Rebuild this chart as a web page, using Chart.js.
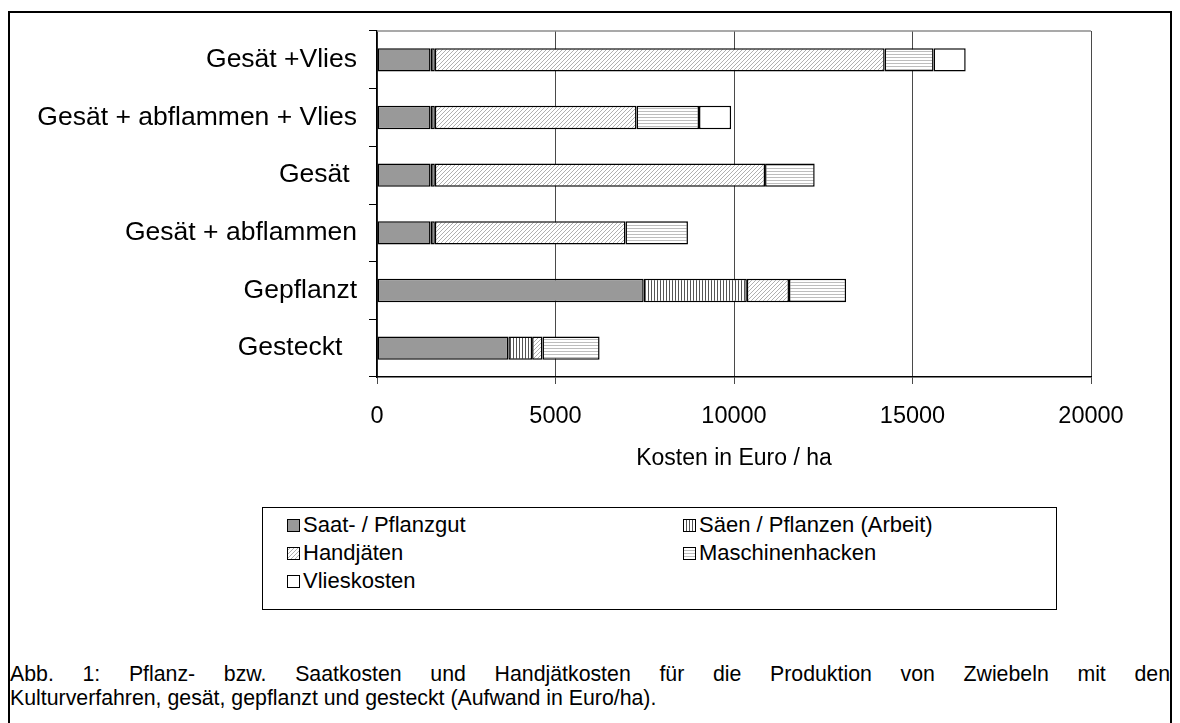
<!DOCTYPE html>
<html>
<head>
<meta charset="utf-8">
<script src="https://cdn.jsdelivr.net/npm/chart.js@4.4.1/dist/chart.umd.min.js"></script>
<style>
	html, body { margin: 0; padding: 0; background: #fff; }
	body { width: 1180px; height: 723px; overflow: hidden; position: relative; font-family: "Liberation Sans", Arial, sans-serif; }
	#frame { position: absolute; left: 8px; top: 11px; width: 1164px; height: 760px; border: 2px solid #000; box-sizing: border-box; }
	#chart-wrap { position: absolute; left: 0; top: 0; width: 1180px; height: 487px; }
	#legend { position: absolute; left: 262px; top: 507px; width: 795px; height: 103px; border: 1px solid #000; box-sizing: border-box; }
	.legend-item { position: absolute; display: flex; align-items: center; font-size: 22px; color: #000; white-space: nowrap; }
	.legend-item canvas { margin-right: 3px; }
	.caption { position: absolute; left: 10px; width: 1160px; font-size: 21.3px; line-height: 24px; color: #000; white-space: nowrap; }
	#caption-1 { top: 662px; text-align: justify; text-align-last: justify; white-space: normal; }
	#caption-2 { top: 686px; }
</style>
</head>
<body>
<div id="frame"></div>
<div id="chart-wrap"><canvas id="chart" width="1180" height="487"></canvas></div>
<div id="legend"></div>
<div class="caption" id="caption-1">Abb. 1: Pflanz- bzw. Saatkosten und Handjätkosten für die Produktion von Zwiebeln mit den</div>
<div class="caption" id="caption-2">Kulturverfahren, gesät, gepflanzt und gesteckt (Aufwand in Euro/ha).</div>
<script>
const categories = ["Gesät +Vlies", "Gesät + abflammen + Vlies", "Gesät ", "Gesät + abflammen", "Gepflanzt", "Gesteckt  "];
const saatgut = [1500, 1500, 1500, 1500, 7470, 3680];
const saeen = [120, 120, 120, 120, 2890, 665];
const handjaeten = [12600, 5650, 9250, 5340, 1180, 290];
const maschinenhacken = [1370, 1750, 1390, 1750, 1600, 1600];
const vlieskosten = [900, 900, 0, 0, 0, 0];
const seriesNames = ["Saat- / Pflanzgut", "Säen / Pflanzen (Arbeit)", "Handjäten", "Maschinenhacken", "Vlieskosten"];
const xMax = 20000;
const xStep = 5000;

// small tiles used as fill patterns
function makeTile(kind) {
	const c = document.createElement("canvas");
	const ctx = c.getContext("2d");
	if (kind === "solid") {
		c.width = c.height = 4;
		ctx.fillStyle = "#999999";
		ctx.fillRect(0, 0, 4, 4);
	} else if (kind === "vertical") {
		c.width = 3; c.height = 3;
		ctx.fillStyle = "#fff";
		ctx.fillRect(0, 0, 3, 3);
		ctx.fillStyle = "#555";
		ctx.fillRect(0, 0, 1, 3);
	} else if (kind === "diagonal") {
		c.width = c.height = 4;
		ctx.fillStyle = "#fff";
		ctx.fillRect(0, 0, 4, 4);
		ctx.fillStyle = "#b0b0b0";
		for (let i = 0; i < 4; i++) ctx.fillRect(3 - i, i, 1, 1);
	} else if (kind === "horizontal") {
		c.width = 3; c.height = 3;
		ctx.fillStyle = "#fff";
		ctx.fillRect(0, 0, 3, 3);
		ctx.fillStyle = "#bdbdbd";
		ctx.fillRect(0, 0, 3, 1);
	} else {
		c.width = c.height = 2;
		ctx.fillStyle = "#fff";
		ctx.fillRect(0, 0, 2, 2);
	}
	return c;
}

const kinds = ["solid", "vertical", "diagonal", "horizontal", "white"];
const mainCtx = document.getElementById("chart").getContext("2d");
const patterns = kinds.map((k) => mainCtx.createPattern(makeTile(k), "repeat"));
const values = [saatgut, saeen, handjaeten, maschinenhacken, vlieskosten];

const datasets = values.map((v, i) => ({
	label: seriesNames[i],
	data: v,
	backgroundColor: patterns[i],
	borderColor: "#000",
	borderWidth: 1.5,
	borderSkipped: false,
	categoryPercentage: 1,
	barPercentage: 0.405,
}));

const plotFrame = {
	id: "plotFrame",
	afterDraw(chart) {
		const { ctx, chartArea } = chart;
		ctx.save();
		ctx.strokeStyle = "#8c8c8c";
		ctx.lineWidth = 1.5;
		ctx.beginPath();
		ctx.moveTo(chartArea.left, chartArea.top);
		ctx.lineTo(chartArea.right, chartArea.top);
		ctx.stroke();
		ctx.restore();
	},
};

Chart.defaults.font.family = '"Liberation Sans", Arial, sans-serif';
Chart.defaults.color = "#000";

new Chart(mainCtx, {
	type: "bar",
	data: { labels: categories, datasets: datasets },
	plugins: [plotFrame],
	options: {
		indexAxis: "y",
		responsive: false,
		animation: false,
		layout: { padding: { left: 0, top: 31, right: 89, bottom: 0 } },
		plugins: {
			legend: { display: false },
			tooltip: { enabled: false },
		},
		scales: {
			x: {
				stacked: true,
				min: 0,
				max: xMax,
				ticks: { stepSize: xStep, font: { size: 23.5 }, padding: 18, maxRotation: 0, callback: (v) => String(v) },
				grid: { color: "#4a4a4a", lineWidth: 1, tickLength: 7, drawTicks: true },
				border: { display: true, color: "#000", width: 1.5 },
				title: { display: true, text: "Kosten in Euro / ha", font: { size: 23 }, padding: { top: 0, bottom: 15 } },
				afterFit(scale) { scale.height = 110; },
			},
			y: {
				stacked: true,
				ticks: { font: { size: 26.5 }, padding: 12 },
				grid: { drawOnChartArea: false, drawTicks: true, tickLength: 8, color: "#000", offset: true },
				border: { display: true, color: "#000", width: 1.5 },
				afterFit(scale) { scale.width = 377; },
			},
		},
	},
});

// legend as html, swatches share the chart patterns
const legendBox = document.getElementById("legend");
const legendPos = [[24, 17], [420, 17], [24, 45], [420, 45], [24, 73]];
seriesNames.forEach((name, i) => {
	const item = document.createElement("div");
	item.className = "legend-item";
	item.style.left = legendPos[i][0] + "px";
	item.style.top = (legendPos[i][1] - 13) + "px";
	const sw = document.createElement("canvas");
	sw.width = 13; sw.height = 13;
	const sctx = sw.getContext("2d");
	sctx.fillStyle = sctx.createPattern(makeTile(kinds[i]), "repeat");
	sctx.fillRect(0, 0, 13, 13);
	sctx.strokeStyle = "#000";
	sctx.lineWidth = 1;
	sctx.strokeRect(0.5, 0.5, 12, 12);
	item.appendChild(sw);
	item.appendChild(document.createTextNode(name));
	legendBox.appendChild(item);
});
</script>
</body>
</html>
